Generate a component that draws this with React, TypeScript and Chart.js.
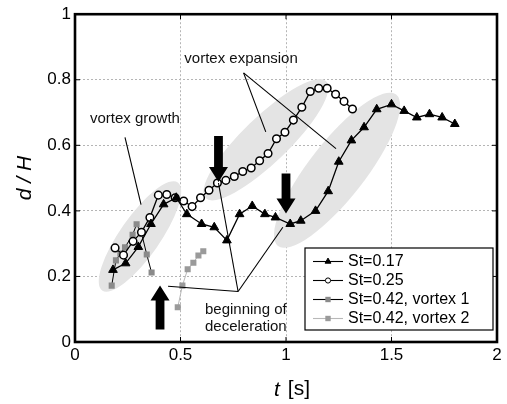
import React, { useEffect, useRef } from "react";
import { Chart, registerables } from "chart.js";

Chart.register(...registerables);

// ---------- data ----------
const tSt017 = [0.18, 0.24, 0.3, 0.36, 0.42, 0.48, 0.53, 0.6, 0.66, 0.72, 0.78, 0.84, 0.9, 0.95, 1.02, 1.07, 1.14, 1.2, 1.25, 1.31, 1.37, 1.43, 1.5, 1.56, 1.62, 1.68, 1.74, 1.8];
const dSt017 = [0.22, 0.24, 0.29, 0.36, 0.42, 0.44, 0.39, 0.36, 0.35, 0.31, 0.39, 0.415, 0.39, 0.38, 0.36, 0.37, 0.4, 0.46, 0.55, 0.615, 0.655, 0.71, 0.725, 0.705, 0.685, 0.695, 0.685, 0.665];

const tSt025 = [0.19, 0.23, 0.275, 0.315, 0.355, 0.395, 0.435, 0.475, 0.515, 0.555, 0.595, 0.635, 0.675, 0.715, 0.755, 0.795, 0.835, 0.875, 0.915, 0.955, 0.995, 1.035, 1.075, 1.115, 1.155, 1.195, 1.235, 1.275, 1.315];
const dSt025 = [0.287, 0.265, 0.307, 0.335, 0.38, 0.448, 0.45, 0.44, 0.43, 0.413, 0.44, 0.463, 0.485, 0.493, 0.505, 0.52, 0.531, 0.553, 0.575, 0.62, 0.64, 0.677, 0.716, 0.764, 0.774, 0.774, 0.756, 0.734, 0.711];

const tV1 = [0.174, 0.194, 0.215, 0.237, 0.273, 0.292, 0.316, 0.34, 0.363];
const dV1 = [0.172, 0.249, 0.27, 0.289, 0.327, 0.359, 0.33, 0.267, 0.212];

const tV2 = [0.487, 0.509, 0.534, 0.561, 0.585, 0.608];
const dV2 = [0.106, 0.172, 0.222, 0.242, 0.264, 0.277];

const seriesLabels = ["St=0.17", "St=0.25", "St=0.42, vortex 1", "St=0.42, vortex 2"];

const xTicks = [0, 0.5, 1, 1.5, 2];
const xTickLabels = ["0", "0.5", "1", "1.5", "2"];
const yTicks = [0, 0.2, 0.4, 0.6, 0.8, 1];
const yTickLabels = ["0", "0.2", "0.4", "0.6", "0.8", "1"];

const xTitleItalic = "t";
const xTitleUnit = "[s]";
const yTitle = "d / H";

// ---------- annotations (data-space anchors) ----------
const ellipses = [
  { t: 0.308, d: 0.322, rx: 66, ry: 20, angle: -55 },
  { t: 0.905, d: 0.617, rx: 84, ry: 23, angle: -44 },
  { t: 1.242, d: 0.524, rx: 96, ry: 28, angle: -52 },
];

const pointerLines = [
  [[0.237, 0.624], [0.313, 0.419]],
  [[0.799, 0.821], [0.904, 0.641]],
  [[0.799, 0.821], [1.237, 0.59]],
  [[0.441, 0.17], [0.773, 0.154]],
  [[0.773, 0.154], [0.68, 0.485]],
  [[0.773, 0.154], [0.985, 0.35]],
];

const arrows = [
  { t: 0.68, d: 0.488, dir: 1, len: 46 },
  { t: 1.0, d: 0.392, dir: 1, len: 40 },
  { t: 0.403, d: 0.172, dir: -1, len: 44 },
];

const notes = [
  { text: "vortex growth", t: 0.284, d: 0.681, align: "center" },
  { text: "vortex expansion", t: 0.787, d: 0.864, align: "center" },
  { text: "beginning of", t: 0.616, d: 0.099, align: "left" },
  { text: "deceleration", t: 0.616, d: 0.045, align: "left" },
];

const FONT = "'Liberation Sans', Arial, Helvetica, sans-serif";

function toXY(arrT: number[], arrD: number[]) {
  return arrT.map((t, i) => ({ x: t, y: arrD[i] }));
}

function marker(ctx: CanvasRenderingContext2D, style: string, x: number, y: number, r: number, fill: string, stroke: string, lw: number) {
  ctx.save();
  ctx.beginPath();
  if (style === "triangle") {
    ctx.moveTo(x, y - r);
    ctx.lineTo(x + r * 0.866, y + r / 2);
    ctx.lineTo(x - r * 0.866, y + r / 2);
    ctx.closePath();
  } else if (style === "circle") {
    ctx.arc(x, y, r, 0, Math.PI * 2);
  } else {
    const s = r * Math.SQRT1_2;
    ctx.rect(x - s, y - s, 2 * s, 2 * s);
  }
  ctx.fillStyle = fill;
  ctx.fill();
  if (lw > 0) {
    ctx.lineWidth = lw;
    ctx.strokeStyle = stroke;
    ctx.stroke();
  }
  ctx.restore();
}

const legendStyles = [
  { line: "#000", style: "triangle", r: 3.4, fill: "#000", stroke: "#000", lw: 1 },
  { line: "#000", style: "circle", r: 2.6, fill: "#fff", stroke: "#000", lw: 1 },
  { line: "#000", style: "rect", r: 3.8, fill: "#8a8a8a", stroke: "#8a8a8a", lw: 0 },
  { line: "#b8b8b8", style: "rect", r: 3.8, fill: "#9a9a9a", stroke: "#9a9a9a", lw: 0 },
];

const decor = {
  id: "decor",
  beforeDatasetsDraw(chart: any) {
    const { ctx, scales } = chart;
    const xs = scales.x, ys = scales.y;
    ctx.save();
    ctx.fillStyle = "#e4e4e4";
    for (const e of ellipses) {
      ctx.beginPath();
      ctx.ellipse(xs.getPixelForValue(e.t), ys.getPixelForValue(e.d), e.rx, e.ry, (e.angle * Math.PI) / 180, 0, Math.PI * 2);
      ctx.fill();
    }
    ctx.restore();
  },
  afterDatasetsDraw(chart: any) {
    const { ctx, scales, chartArea } = chart;
    const xs = scales.x, ys = scales.y;
    const px = (t: number) => xs.getPixelForValue(t);
    const py = (d: number) => ys.getPixelForValue(d);
    ctx.save();

    // pointer lines
    ctx.strokeStyle = "#000";
    ctx.lineWidth = 1.1;
    for (const [a, b] of pointerLines) {
      ctx.beginPath();
      ctx.moveTo(px(a[0]), py(a[1]));
      ctx.lineTo(px(b[0]), py(b[1]));
      ctx.stroke();
    }

    // arrows
    ctx.fillStyle = "#000";
    for (const a of arrows) {
      const tx = px(a.t), ty = py(a.d);
      const hw = 9.5, sw = 4.4, hl = 15;
      const by = ty - a.dir * a.len;
      const hy = ty - a.dir * hl;
      ctx.beginPath();
      ctx.moveTo(tx, ty);
      ctx.lineTo(tx - hw, hy);
      ctx.lineTo(tx - sw, hy);
      ctx.lineTo(tx - sw, by);
      ctx.lineTo(tx + sw, by);
      ctx.lineTo(tx + sw, hy);
      ctx.lineTo(tx + hw, hy);
      ctx.closePath();
      ctx.fill();
    }

    // notes
    ctx.font = `15px ${FONT}`;
    ctx.textBaseline = "middle";
    ctx.fillStyle = "#111";
    for (const n of notes) {
      ctx.textAlign = n.align as CanvasTextAlign;
      ctx.fillText(n.text, px(n.t), py(n.d));
    }

    // inner ticks
    ctx.strokeStyle = "#000";
    ctx.lineWidth = 1;
    const { left, right, top, bottom } = chartArea;
    for (const v of xTicks) {
      const x = px(v);
      ctx.beginPath();
      ctx.moveTo(x, bottom); ctx.lineTo(x, bottom - 5);
      ctx.moveTo(x, top); ctx.lineTo(x, top + 5);
      ctx.stroke();
    }
    for (const v of yTicks) {
      const y = py(v);
      ctx.beginPath();
      ctx.moveTo(left, y); ctx.lineTo(left + 5, y);
      ctx.moveTo(right, y); ctx.lineTo(right - 5, y);
      ctx.stroke();
    }

    // frame
    ctx.lineWidth = 2.6;
    ctx.strokeStyle = "#000";
    ctx.strokeRect(left, top, right - left, bottom - top);

    // legend
    const lw = 188, lh = 82;
    const lx = right - 4 - lw, ly = bottom - 12 - lh;
    ctx.fillStyle = "#fff";
    ctx.fillRect(lx, ly, lw, lh);
    ctx.lineWidth = 1.2;
    ctx.strokeStyle = "#000";
    ctx.strokeRect(lx, ly, lw, lh);
    ctx.font = `16px ${FONT}`;
    ctx.textAlign = "left";
    ctx.textBaseline = "middle";
    seriesLabels.forEach((lab, i) => {
      const s = legendStyles[i];
      const yy = ly + 13.5 + i * 19;
      ctx.strokeStyle = s.line;
      ctx.lineWidth = 1.1;
      ctx.beginPath();
      ctx.moveTo(lx + 8, yy);
      ctx.lineTo(lx + 38, yy);
      ctx.stroke();
      marker(ctx, s.style, lx + 23, yy, s.r, s.fill, s.stroke, s.lw);
      ctx.fillStyle = "#000";
      ctx.fillText(lab, lx + 43, yy + 0.5);
    });

    // axis titles
    ctx.fillStyle = "#000";
    ctx.textBaseline = "middle";
    ctx.font = `italic 21px ${FONT}`;
    const wt = ctx.measureText(xTitleItalic).width;
    ctx.font = `21px ${FONT}`;
    const ws = ctx.measureText(xTitleUnit).width;
    const gap = 8;
    const cx = (left + right) / 2 + 6;
    const sx = cx - (wt + gap + ws) / 2;
    ctx.textAlign = "left";
    ctx.font = `italic 21px ${FONT}`;
    ctx.fillText(xTitleItalic, sx, 390);
    ctx.font = `21px ${FONT}`;
    ctx.fillText(xTitleUnit, sx + wt + gap, 389);

    ctx.save();
    ctx.translate(25, (top + bottom) / 2);
    ctx.rotate(-Math.PI / 2);
    ctx.textAlign = "center";
    ctx.font = `italic 21px ${FONT}`;
    ctx.fillText(yTitle, 0, 0);
    ctx.restore();

    ctx.restore();
  },
};

export default function App() {
  const ref = useRef<HTMLCanvasElement>(null);
  useEffect(() => {
    const canvas = ref.current;
    if (!canvas) return;
    const tickFont = { family: FONT, size: 17 };
    const chart = new Chart(canvas, {
      type: "scatter",
      data: {
        datasets: [
          {
            label: seriesLabels[0],
            data: toXY(tSt017, dSt017),
            showLine: true,
            borderColor: "#000",
            borderWidth: 1.3,
            pointStyle: "triangle",
            pointRadius: 5,
            pointBackgroundColor: "#000",
            pointBorderColor: "#000",
            pointBorderWidth: 1,
          },
          {
            label: seriesLabels[1],
            data: toXY(tSt025, dSt025),
            showLine: true,
            borderColor: "#000",
            borderWidth: 1.3,
            pointStyle: "circle",
            pointRadius: 3.8,
            pointBackgroundColor: "#fff",
            pointBorderColor: "#000",
            pointBorderWidth: 1.5,
          },
          {
            label: seriesLabels[2],
            data: toXY(tV1, dV1),
            showLine: true,
            borderColor: "#000",
            borderWidth: 1,
            pointStyle: "rect",
            pointRadius: 4.3,
            pointBackgroundColor: "#8a8a8a",
            pointBorderColor: "#8a8a8a",
            pointBorderWidth: 0,
          },
          {
            label: seriesLabels[3],
            data: toXY(tV2, dV2),
            showLine: true,
            borderColor: "#b8b8b8",
            borderWidth: 1,
            pointStyle: "rect",
            pointRadius: 4.3,
            pointBackgroundColor: "#9a9a9a",
            pointBorderColor: "#9a9a9a",
            pointBorderWidth: 0,
          },
        ],
      },
      options: {
        responsive: false,
        maintainAspectRatio: false,
        devicePixelRatio: 1,
        animation: false,
        layout: { padding: { top: 10, right: 10, left: 0, bottom: 0 } },
        plugins: { legend: { display: false }, tooltip: { enabled: false }, title: { display: false } },
        elements: { line: { tension: 0 } },
        scales: {
          x: {
            type: "linear",
            min: 0,
            max: 2,
            afterBuildTicks: (s: any) => {
              s.ticks = xTicks.map((v) => ({ value: v }));
            },
            afterFit: (s: any) => {
              s.height = 62;
            },
            ticks: {
              callback: (v: any) => xTickLabels[xTicks.indexOf(Number(v))] ?? "",
              font: tickFont,
              color: "#000",
              padding: 3,
              maxRotation: 0,
              autoSkip: false,
            },
            grid: { color: "#b5b5b5", lineWidth: 1, drawTicks: false },
            border: { display: false, dash: [2, 2] },
          },
          y: {
            type: "linear",
            min: 0,
            max: 1,
            afterBuildTicks: (s: any) => {
              s.ticks = yTicks.map((v) => ({ value: v }));
            },
            afterFit: (s: any) => {
              s.width = 75;
            },
            ticks: {
              callback: (v: any) => yTickLabels[yTicks.indexOf(Number(v))] ?? "",
              font: tickFont,
              color: "#000",
              padding: 4,
              autoSkip: false,
            },
            grid: { color: "#b5b5b5", lineWidth: 1, drawTicks: false },
            border: { display: false, dash: [2, 2] },
          },
        },
      },
      plugins: [decor],
    } as any);
    return () => chart.destroy();
  }, []);

  return (
    <div style={{ position: "fixed", left: 0, top: 0, width: 507, height: 404, background: "#fff" }}>
      <canvas ref={ref} width={507} height={404} style={{ display: "block", width: 507, height: 404 }} />
    </div>
  );
}
